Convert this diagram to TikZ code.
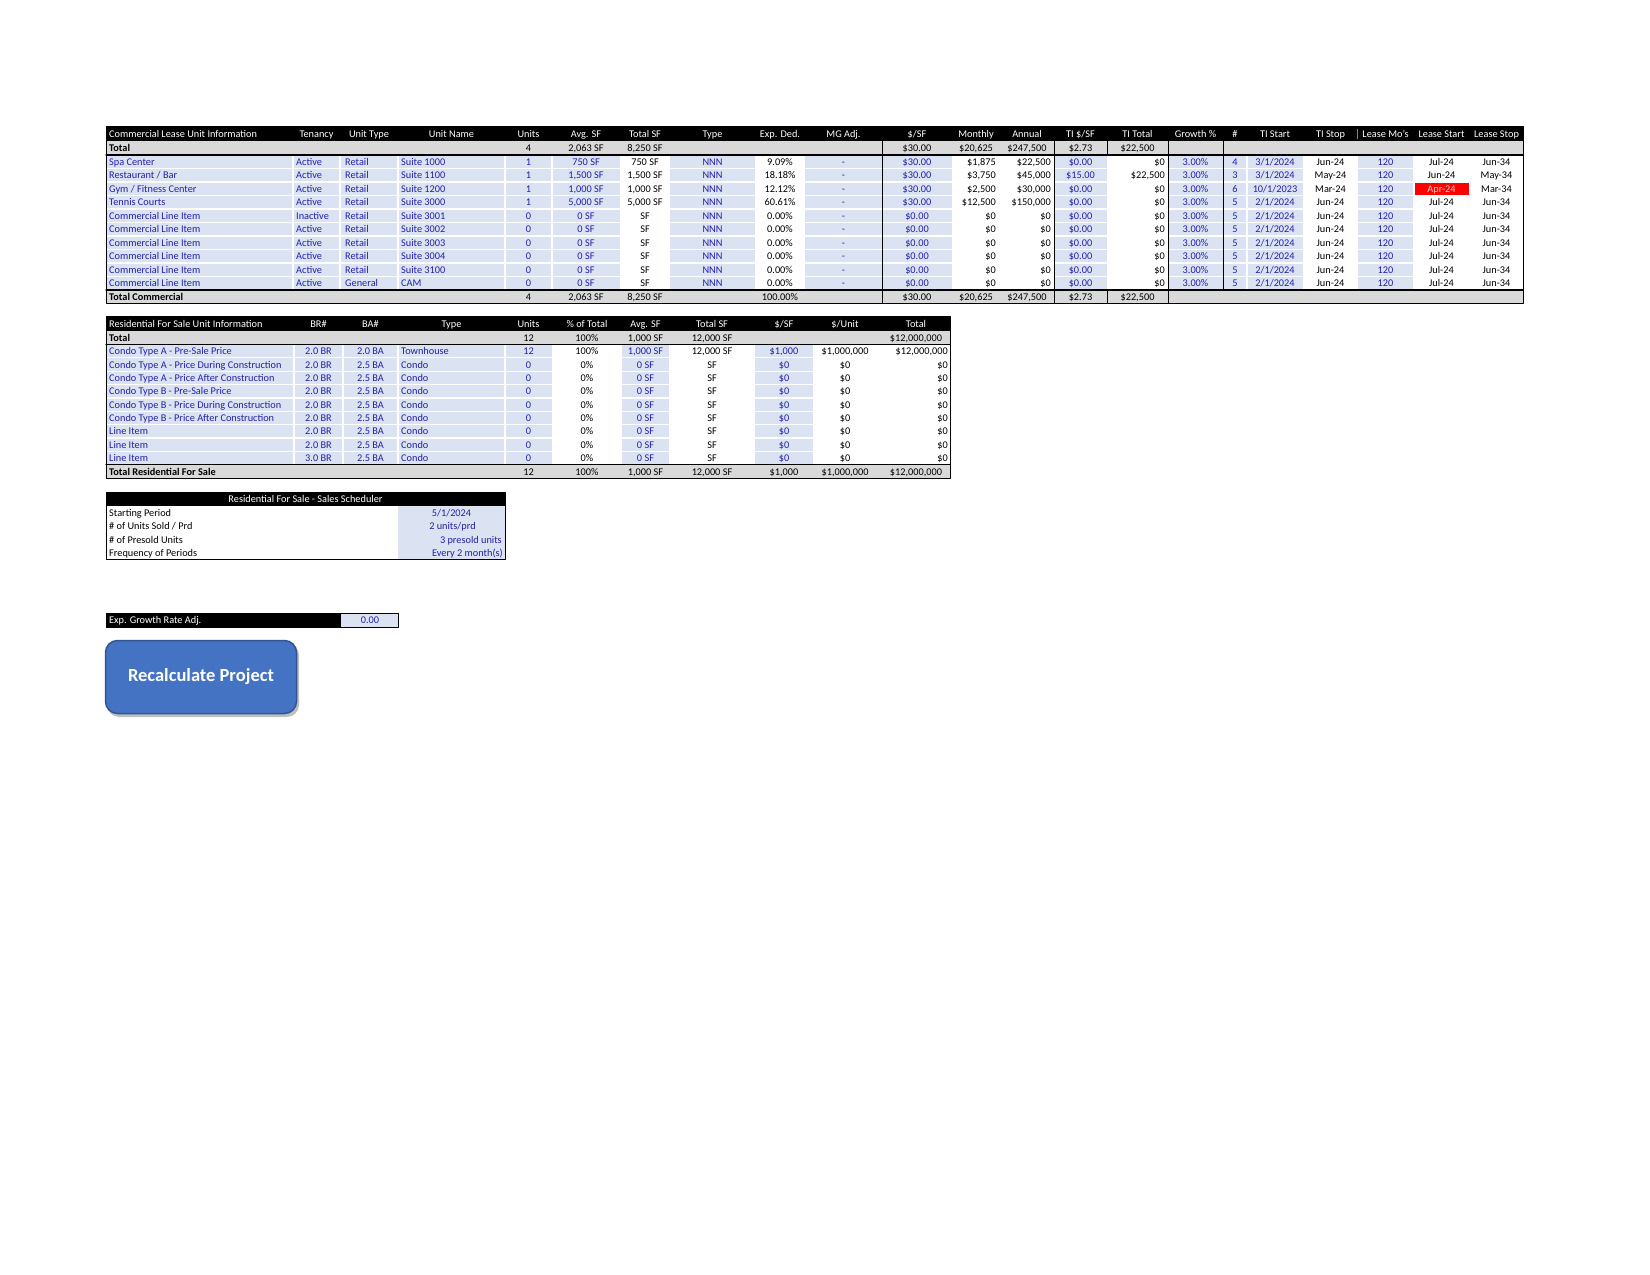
\documentclass[tikz,border=0pt]{standalone}
\usepackage{fontspec}
\setmainfont{Carlito}
\definecolor{dcetff}{rgb}{0.86,0.89,0.95}
\definecolor{qqqqbb}{rgb}{0.13,0.13,0.65}
\definecolor{dadada}{rgb}{0.85,0.85,0.85}
\definecolor{ffqqqq}{rgb}{1,0,0}
\definecolor{ffcccc}{rgb}{1,0.8,0.8}
\definecolor{wrtwct}{rgb}{0.27,0.45,0.77}
\definecolor{qqbbmm}{rgb}{0.2,0.33,0.58}
\begin{document}
\begin{tikzpicture}[line cap=round,line join=round,x=1pt,y=-1pt,
  every node/.style={inner sep=0pt,anchor=mid,yshift=-1.3pt,font=\fontsize{10.3}{12}\selectfont},
  inp/.style={text=qqqqbb},hd/.style={text=white},
  lft/.style={anchor=mid west},rgt/.style={anchor=mid east},
  tot/.style={anchor=mid west,font=\fontsize{10.3}{12}\selectfont\bfseries}]
\useasboundingbox (0,0) rectangle (1650,1275);
% commercial lease table
\fill[black] (106,126.7) rectangle (1523,140.7);
\fill[dadada] (106,140.7) rectangle (1523,155);
\fill[dadada] (106,290) rectangle (1523,303.3);
\fill[dcetff] (106,155) rectangle (620,290);
\foreach \a/\b in {670/755,805/882,882/952,1054/1107,1168/1223,1223/1303,1358/1413}
  \fill[dcetff] (\a,155) rectangle (\b,290);
\fill[ffqqqq] (1414.5,182.8) rectangle (1468.5,195.2);
\foreach \i in {1,...,9}
  \draw[white,line width=1.2pt] (106,{155+13.5*\i}) -- (1523,{155+13.5*\i});
\foreach \x in {293,340,398,505,552,1247}
  \draw[white,line width=1.2pt] (\x,155) -- (\x,290);
\draw[line width=1pt] (106,126.7) rectangle (1523,303.3);
\draw[line width=1.2pt] (106,155) -- (1523,155);
\draw[line width=1.2pt] (106,290) -- (1523,290);
\foreach \x in {882,1054,1168}
  \draw[line width=0.9pt] (\x,140.7) -- (\x,303.3);
\draw[line width=0.9pt] (1223,140.7) -- (1223,290);
\draw[line width=0.9pt] (1107,140.7) -- (1107,155) (1107,290) -- (1107,303.3);
\draw[gray] (1357.5,129) -- (1357.5,139);
\node[hd,lft] (chd0) at (109,133.7) {Commercial Lease Unit Information};
\foreach \x/\t [count=\k] in {316.5/Tenancy,369/Unit Type,451.5/Unit Name,528.5/Units,586/Avg. SF,
  645/Total SF,712.5/Type,780/Exp. Ded.,843.5/MG Adj.,917/{\$/SF},976/Monthly,1027/Annual,
  1080.5/{TI \$/SF},1137.5/TI Total,1195.5/Growth \%,1235/\#,1275/TI Start,1330.5/TI Stop,
  1385.5/Lease Mo's,1441.5/Lease Start,1496.5/Lease Stop}
  \node[hd] (chd\k) at (\x,133.7) {\t};
\node[tot] (ctot) at (109,147.9) {Total};
\node[tot] (ctotc) at (109,296.7) {Total Commercial};
\foreach \y/\s in {147.9/a,296.7/b}{
  \foreach \x/\t [count=\k] in {528.5/4,586/{2,063 SF},645/{8,250 SF},917/{\$30.00},976/{\$20,625},
    1027/{\$247,500},1080.5/{\$2.73},1137.5/{\$22,500}}
    \node (csum\s\k) at (\x,\y) {\t};}
\node (csumb9) at (780,296.7) {100.00\%};
\foreach \t [count=\r] in {Spa Center,Restaurant / Bar,Gym / Fitness Center,Tennis Courts,
  Commercial Line Item,Commercial Line Item,Commercial Line Item,Commercial Line Item,
  Commercial Line Item,Commercial Line Item}
  \node[inp,lft] (cnam\r) at (109,{148.25+13.5*\r}) {\t};
\foreach \t [count=\r] in {Active,Active,Active,Active,Inactive,Active,Active,Active,Active,Active}
  \node[inp,lft] (cten\r) at (296,{148.25+13.5*\r}) {\t};
\foreach \t [count=\r] in {Retail,Retail,Retail,Retail,Retail,Retail,Retail,Retail,Retail,General}
  \node[inp,lft] (cuty\r) at (345,{148.25+13.5*\r}) {\t};
\foreach \t [count=\r] in {Suite 1000,Suite 1100,Suite 1200,Suite 3000,Suite 3001,Suite 3002,
  Suite 3003,Suite 3004,Suite 3100,CAM}
  \node[inp,lft] (cunm\r) at (401,{148.25+13.5*\r}) {\t};
\foreach \t [count=\r] in {1,1,1,1,0,0,0,0,0,0}
  \node[inp] (cunt\r) at (528.5,{148.25+13.5*\r}) {\t};
\foreach \t [count=\r] in {750 SF,{1,500 SF},{1,000 SF},{5,000 SF},0 SF,0 SF,0 SF,0 SF,0 SF,0 SF}
  \node[inp] (cavg\r) at (586,{148.25+13.5*\r}) {\t};
\foreach \t [count=\r] in {750 SF,{1,500 SF},{1,000 SF},{5,000 SF},SF,SF,SF,SF,SF,SF}
  \node (ctsf\r) at (645,{148.25+13.5*\r}) {\t};
\foreach \r in {1,...,10}{
  \node[inp] (cnnn\r) at (712.5,{148.25+13.5*\r}) {NNN};
  \node[inp] (cmga\r) at (843.5,{148.25+13.5*\r}) {-};
  \node[inp] (cgro\r) at (1195.5,{148.25+13.5*\r}) {3.00\%};
  \node[inp] (clmo\r) at (1385.5,{148.25+13.5*\r}) {120};}
\foreach \t [count=\r] in {9.09\%,18.18\%,12.12\%,60.61\%,0.00\%,0.00\%,0.00\%,0.00\%,0.00\%,0.00\%}
  \node (cexp\r) at (780,{148.25+13.5*\r}) {\t};
\foreach \t [count=\r] in {\$30.00,\$30.00,\$30.00,\$30.00,\$0.00,\$0.00,\$0.00,\$0.00,\$0.00,\$0.00}
  \node[inp] (cpsf\r) at (917,{148.25+13.5*\r}) {\t};
\foreach \t [count=\r] in {{\$1,875},{\$3,750},{\$2,500},{\$12,500},\$0,\$0,\$0,\$0,\$0,\$0}
  \node[rgt] (cmon\r) at (996,{148.25+13.5*\r}) {\t};
\foreach \t [count=\r] in {{\$22,500},{\$45,000},{\$30,000},{\$150,000},\$0,\$0,\$0,\$0,\$0,\$0}
  \node[rgt] (cann\r) at (1051,{148.25+13.5*\r}) {\t};
\foreach \t [count=\r] in {\$0.00,\$15.00,\$0.00,\$0.00,\$0.00,\$0.00,\$0.00,\$0.00,\$0.00,\$0.00}
  \node[inp] (ctip\r) at (1080.5,{148.25+13.5*\r}) {\t};
\foreach \t [count=\r] in {\$0,{\$22,500},\$0,\$0,\$0,\$0,\$0,\$0,\$0,\$0}
  \node[rgt] (ctit\r) at (1165,{148.25+13.5*\r}) {\t};
\foreach \t [count=\r] in {4,3,6,5,5,5,5,5,5,5}
  \node[inp] (cnum\r) at (1235,{148.25+13.5*\r}) {\t};
\foreach \t [count=\r] in {3/1/2024,3/1/2024,10/1/2023,2/1/2024,2/1/2024,2/1/2024,2/1/2024,
  2/1/2024,2/1/2024,2/1/2024}
  \node[inp] (ctis\r) at (1275,{148.25+13.5*\r}) {\t};
\foreach \t [count=\r] in {Jun-24,May-24,Mar-24,Jun-24,Jun-24,Jun-24,Jun-24,Jun-24,Jun-24,Jun-24}
  \node (ctie\r) at (1330.5,{148.25+13.5*\r}) {\t};
\foreach \t [count=\r] in {Jul-24,Jun-24,\textcolor{ffcccc}{Apr-24},Jul-24,Jul-24,Jul-24,Jul-24,
  Jul-24,Jul-24,Jul-24}
  \node (clst\r) at (1441.5,{148.25+13.5*\r}) {\t};
\foreach \t [count=\r] in {Jun-34,May-34,Mar-34,Jun-34,Jun-34,Jun-34,Jun-34,Jun-34,Jun-34,Jun-34}
  \node (clsp\r) at (1496.5,{148.25+13.5*\r}) {\t};
% residential for sale table
\fill[black] (106,316.5) rectangle (950,330.5);
\fill[dadada] (106,330.5) rectangle (950,344.5);
\fill[dadada] (106,464.7) rectangle (950,478.7);
\fill[dcetff] (106,344.5) rectangle (552,464.7);
\foreach \a/\b in {622/669,755/813}
  \fill[dcetff] (\a,344.5) rectangle (\b,464.7);
\foreach \i in {1,...,8}
  \draw[white,line width=1.2pt] (106,{344.5+13.35*\i}) -- (950,{344.5+13.35*\i});
\foreach \x in {294,343,398,505}
  \draw[white,line width=1.2pt] (\x,344.5) -- (\x,464.7);
\draw[line width=1pt] (106,316.5) rectangle (950,478.7);
\draw[line width=1.2pt] (106,344.5) -- (950,344.5);
\draw[line width=1.2pt] (106,464.7) -- (950,464.7);
\node[hd,lft] (rhd0) at (109,323.5) {Residential For Sale Unit Information};
\foreach \x/\t [count=\k] in {318.5/BR\#,370.5/BA\#,451.5/Type,528.5/Units,587/\% of Total,
  645.5/Avg. SF,712/Total SF,784/{\$/SF},845/{\$/Unit},916/Total}
  \node[hd] (rhd\k) at (\x,323.5) {\t};
\node[tot] (rtot) at (109,337.5) {Total};
\node[tot] (rtotr) at (109,471.7) {Total Residential For Sale};
\foreach \x/\t [count=\k] in {528.5/12,587/100\%,645.5/{1,000 SF},712/{12,000 SF},916/{\$12,000,000}}
  \node (rsuma\k) at (\x,337.5) {\t};
\foreach \x/\t [count=\k] in {528.5/12,587/100\%,645.5/{1,000 SF},712/{12,000 SF},784/{\$1,000},
  845/{\$1,000,000},916/{\$12,000,000}}
  \node (rsumb\k) at (\x,471.7) {\t};
\foreach \t [count=\r] in {Condo Type A - Pre-Sale Price,Condo Type A - Price During Construction,
  Condo Type A - Price After Construction,Condo Type B - Pre-Sale Price,
  Condo Type B - Price During Construction,Condo Type B - Price After Construction,
  Line Item,Line Item,Line Item}
  \node[inp,lft] (rnam\r) at (109,{337.825+13.35*\r}) {\t};
\foreach \t [count=\r] in {2.0 BR,2.0 BR,2.0 BR,2.0 BR,2.0 BR,2.0 BR,2.0 BR,2.0 BR,3.0 BR}
  \node[inp] (rbr\r) at (318.5,{337.825+13.35*\r}) {\t};
\foreach \t [count=\r] in {2.0 BA,2.5 BA,2.5 BA,2.5 BA,2.5 BA,2.5 BA,2.5 BA,2.5 BA,2.5 BA}
  \node[inp] (rba\r) at (370.5,{337.825+13.35*\r}) {\t};
\foreach \t [count=\r] in {Townhouse,Condo,Condo,Condo,Condo,Condo,Condo,Condo,Condo}
  \node[inp,lft] (rtyp\r) at (401,{337.825+13.35*\r}) {\t};
\foreach \t [count=\r] in {12,0,0,0,0,0,0,0,0}
  \node[inp] (runt\r) at (528.5,{337.825+13.35*\r}) {\t};
\foreach \t [count=\r] in {100\%,0\%,0\%,0\%,0\%,0\%,0\%,0\%,0\%}
  \node (rpct\r) at (587,{337.825+13.35*\r}) {\t};
\foreach \t [count=\r] in {{1,000 SF},0 SF,0 SF,0 SF,0 SF,0 SF,0 SF,0 SF,0 SF}
  \node[inp] (ravg\r) at (645.5,{337.825+13.35*\r}) {\t};
\foreach \t [count=\r] in {{12,000 SF},SF,SF,SF,SF,SF,SF,SF,SF}
  \node (rtsf\r) at (712,{337.825+13.35*\r}) {\t};
\foreach \t [count=\r] in {{\$1,000},\$0,\$0,\$0,\$0,\$0,\$0,\$0,\$0}
  \node[inp] (rpsf\r) at (784,{337.825+13.35*\r}) {\t};
\foreach \t [count=\r] in {{\$1,000,000},\$0,\$0,\$0,\$0,\$0,\$0,\$0,\$0}
  \node (rpun\r) at (845,{337.825+13.35*\r}) {\t};
\foreach \t [count=\r] in {{\$12,000,000},\$0,\$0,\$0,\$0,\$0,\$0,\$0,\$0}
  \node[rgt] (rtov\r) at (948,{337.825+13.35*\r}) {\t};
% sales scheduler
\fill[black] (106,492) rectangle (505,506);
\fill[dcetff] (398,506) rectangle (505,559.5);
\draw[line width=1pt] (106,492) rectangle (505,559.5);
\node[hd] (shd) at (305.5,499) {Residential For Sale - Sales Scheduler};
\foreach \t [count=\r] in {Starting Period,\# of Units Sold / Prd,\# of Presold Units,Frequency of Periods}
  \node[lft] (slab\r) at (109,{499.5+13.4*\r}) {\t};
\node[inp] (sval1) at (451.5,512.9) {5/1/2024};
\node[inp] (sval2) at (452.5,526.3) {2 units/prd};
\node[inp,rgt] (sval3) at (502,539.7) {3 presold units};
\node[inp,rgt] (sval4) at (503,553.1) {Every 2 month(s)};
% growth rate adjustment
\fill[black] (106,613.3) rectangle (341,627.3);
\fill[dcetff] (341,613.3) rectangle (398,627.3);
\draw[line width=1pt] (106,613.3) rectangle (398,627.3);
\node[hd,lft] (glab) at (109,620.3) {Exp. Growth Rate Adj.};
\node[inp] (gval) at (370,620.3) {0.00};
% button
\fill[black!25,rounded corners=12pt] (107,643) rectangle (299,717);
\draw[fill=wrtwct,draw=qqbbmm,line width=1.5pt,rounded corners=12pt] (105.5,640.5) rectangle (296.5,713.5);
\node[text=white,font=\fontsize{18.5}{22}\selectfont\bfseries] (btn) at (201,677.7) {Recalculate Project};
\end{tikzpicture}
\end{document}
